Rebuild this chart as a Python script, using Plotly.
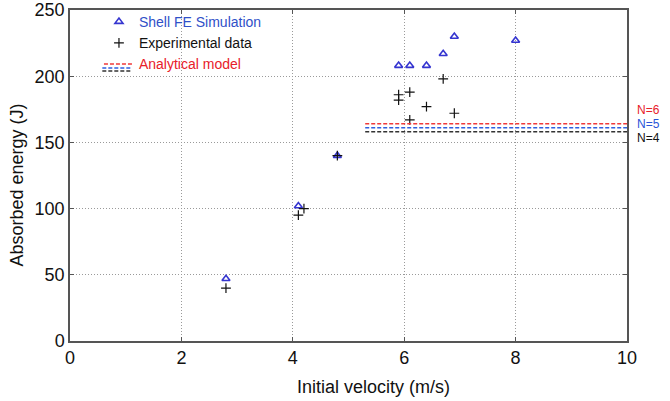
import plotly.graph_objects as go

# ---- data ----
fe_velocity = [2.8, 4.1, 4.8, 5.9, 6.1, 6.4, 6.7, 6.9, 8.0]
fe_energy = [47, 102, 140, 208, 208, 208, 217, 230, 227]

exp_velocity = [2.8, 4.1, 4.2, 4.8, 5.9, 5.9, 6.1, 6.1, 6.4, 6.7, 6.9]
exp_energy = [40, 95, 100, 140, 186, 182, 188, 167, 177, 198, 172]

model_velocity = [5.3, 10.0]
model_labels = ["N=6", "N=5", "N=4"]
model_energy = [164, 161, 158]
model_colors = ["#f03a3a", "#2f5fe0", "#333333"]
label_colors = ["#e8202a", "#2a55d8", "#111111"]

x_ticks = [0, 2, 4, 6, 8, 10]
y_ticks = [0, 50, 100, 150, 200, 250]

FONT = "Liberation Sans Narrow, Liberation Sans, Arial, sans-serif"
LFONT = "Liberation Sans, Arial, sans-serif"

fig = go.Figure()

fig.add_trace(go.Scatter(
    x=fe_velocity, y=fe_energy, mode="markers",
    name='<span style="color:#3050c8">Shell FE Simulation</span>',
    marker=dict(symbol="triangle-up-open", size=7, color="#3535d0",
                line=dict(width=1.6, color="#3535d0")),
))
fig.add_trace(go.Scatter(
    x=exp_velocity, y=exp_energy, mode="markers",
    name='<span style="color:#111111">Experimental data</span>',
    marker=dict(symbol="cross-thin-open", size=7, color="#111111",
                line=dict(width=1.2, color="#111111")),
))
label_offsets = [174.5, 164, 153.5]
for i, (lab, e) in enumerate(zip(model_labels, model_energy)):
    fig.add_trace(go.Scatter(
        x=model_velocity, y=[e, e], mode="lines",
        name='<span style="color:#e8202a">Analytical model</span>',
        showlegend=(i == 0),
        line=dict(color=model_colors[i], width=1.5, dash="4px,2px"),
    ))
    fig.add_annotation(
        x=1.0, xref="paper", xanchor="left", xshift=8,
        y=label_offsets[i], yref="y", yanchor="middle",
        text=lab, showarrow=False,
        font=dict(family=LFONT, size=12, color=label_colors[i]),
    )

# extra stacked dashes in the legend symbol (blue, black) below the red one
for yy, col in [(0.8248, model_colors[1]), (0.8157, model_colors[2])]:
    fig.add_shape(type="line", xref="paper", yref="paper",
                  x0=0.058, x1=0.111, y0=yy, y1=yy,
                  line=dict(color=col, width=1.5, dash="4px,2px"))

# axis titles
fig.add_annotation(
    x=0.545, xref="paper", y=-0.103, yref="paper", yanchor="top",
    text="Initial velocity (m/s)", showarrow=False,
    font=dict(family=FONT, size=18, color="#111111"),
)
fig.add_annotation(
    x=-0.095, xref="paper", xanchor="center", y=0.47, yref="paper", yanchor="middle",
    text="Absorbed energy (J)", textangle=-90, showarrow=False,
    font=dict(family=FONT, size=18, color="#111111"),
)

axis_common = dict(
    showline=True, linecolor="#555555", linewidth=1.5, mirror="ticks",
    ticks="inside", ticklen=4, tickcolor="#555555", tickwidth=1,
    showgrid=True, gridcolor="#9a9a9a", griddash="1px,2px", gridwidth=1,
    zeroline=False, automargin=False,
    tickfont=dict(family=FONT, size=18, color="#111111"),
)

fig.update_xaxes(range=[0, 10], tickvals=x_ticks, **axis_common)
fig.update_yaxes(range=[0, 250], tickvals=y_ticks, **axis_common)

fig.update_layout(
    width=670, height=401,
    margin=dict(l=70, r=43, t=10, b=60, autoexpand=False),
    paper_bgcolor="white", plot_bgcolor="white",
    showlegend=True,
    legend=dict(x=0.052, y=1.012, xanchor="left", yanchor="top",
                bgcolor="rgba(0,0,0,0)", borderwidth=0,
                font=dict(family=LFONT, size=14, color="#111111"),
                itemwidth=30, tracegroupgap=0),
)

fig.write_html("out.html", config={"displayModeBar": False},
               post_script="document.body.style.margin='0';")
